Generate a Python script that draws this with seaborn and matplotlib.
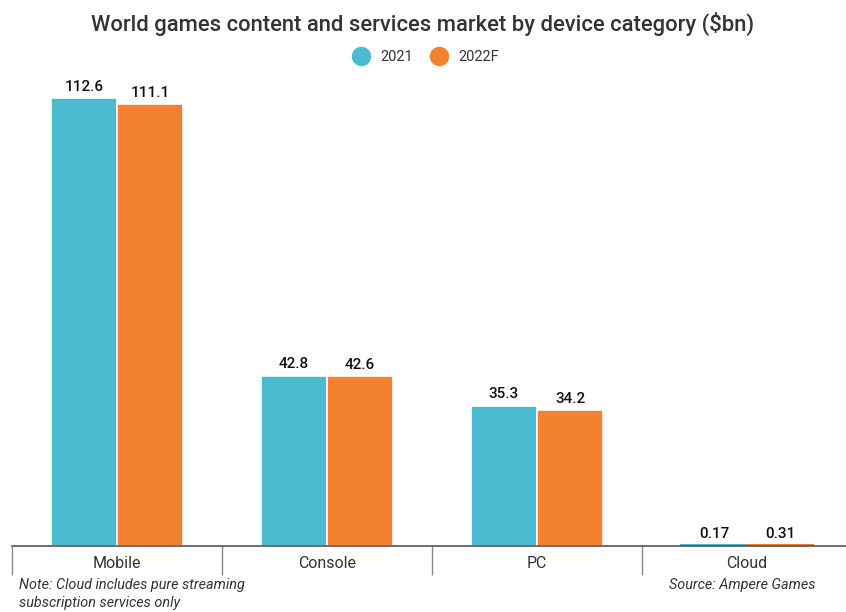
import matplotlib
matplotlib.use("Agg")
import matplotlib.pyplot as plt
import seaborn as sns
import pandas as pd
from matplotlib.lines import Line2D

categories = ["Mobile", "Console", "PC", "Cloud"]
years = ["2021", "2022F"]
values_2021 = [112.6, 42.8, 35.3, 0.17]
values_2022 = [111.1, 42.6, 34.2, 0.31]
labels_2021 = ["112.6", "42.8", "35.3", "0.17"]
labels_2022 = ["111.1", "42.6", "34.2", "0.31"]

df = pd.DataFrame({
    "category": categories * 2,
    "year": [years[0]] * 4 + [years[1]] * 4,
    "value": values_2021 + values_2022,
})

sns.set_theme(style="white")
plt.rcParams['font.family'] = ['Roboto', 'DejaVu Sans']

colors = {"2021": "#4bbbd0", "2022F": "#f4812f"}
txt = "#333333"

fig = plt.figure(figsize=(8.46, 6.12), dpi=100)
ax = fig.add_axes([12/846, 1 - 546/612, 840/846, (546-80)/612])

sns.barplot(data=df, x="category", y="value", hue="year", order=categories,
            hue_order=years, palette=colors, width=0.63, ax=ax,
            edgecolor="white", linewidth=1.2, legend=False, saturation=1)

for p in ax.patches:
    if p.get_height() < 1:
        p.set_edgecolor(p.get_facecolor())
        p.set_linewidth(1.5)

ax.set_xlim(-0.5, 3.5)
ax.set_ylim(0, 466/3.98)

for cont, labs in zip(ax.containers, [labels_2021, labels_2022]):
    ax.bar_label(cont, labels=labs, padding=3, fontsize=11, color="#111111",
                 fontweight="medium")

for s in ["top", "right", "left"]:
    ax.spines[s].set_visible(False)
ax.spines["bottom"].set_color("#555555")
ax.spines["bottom"].set_linewidth(1.2)
ax.set_yticks([])
ax.set_xlabel("")
ax.set_ylabel("")
ax.tick_params(axis="x", which="major", length=0, labelsize=11.5, labelcolor=txt, pad=7)
ax.set_xticks([-0.5, 0.5, 1.5, 2.5], minor=True)
ax.tick_params(axis="x", which="minor", bottom=True, length=21, width=1, color="#888888")

fig.text(0.5, 1 - 24/612, "World games content and services market by device category ($bn)",
         ha="center", va="center", fontsize=15.8, color=txt, fontweight="medium")

handles = [Line2D([], [], marker="o", linestyle="", markersize=13,
                  markerfacecolor=colors[y], markeredgecolor=colors[y]) for y in years]
fig.legend(handles, years, loc="center", bbox_to_anchor=(0.5, 1 - 57/612), ncol=2,
           frameon=False, fontsize=10.5, handletextpad=0.3, columnspacing=0.8,
           labelcolor=txt)

fig.text(19/846, 1 - 585/612, "Note: Cloud includes pure streaming", ha="left", va="center",
         fontsize=10.4, style="italic", color=txt)
fig.text(19/846, 1 - 603/612, "subscription services only", ha="left", va="center",
         fontsize=10.4, style="italic", color=txt)
fig.text(815/846, 1 - 585/612, "Source: Ampere Games", ha="right", va="center",
         fontsize=10.4, style="italic", color=txt)

fig.savefig("out.png", dpi=100)
